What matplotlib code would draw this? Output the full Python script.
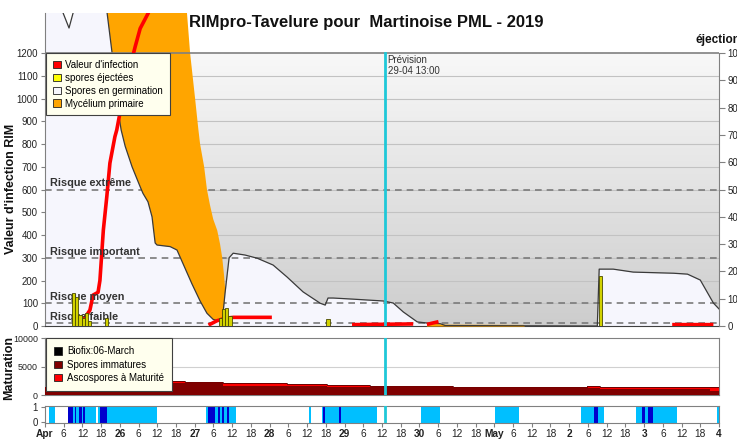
import numpy as np
import matplotlib
matplotlib.use('Agg')
import matplotlib.pyplot as plt
from matplotlib.patches import Patch
from matplotlib.colors import LinearSegmentedColormap

plt.rcParams['font.family'] = ['Liberation Sans', 'DejaVu Sans']

# ---------------- data (hours since 25-04 00:00) ----------------
germ_h = [0, 4.8, 5.8, 7.7, 9.0, 9.9, 18.9, 19.9, 21.5, 22.8, 24.4, 25.7, 27.9, 30.5, 31.4,
          33.0, 34.3, 35.3, 35.9, 40.1, 42.3, 44.2, 47.1, 49.7, 51.9, 53.9, 56.1, 56.8, 57.7,
          59.0, 60.3, 64.1, 68.0, 73.1, 77.6, 82.7, 88.2, 89.8, 90.7, 92.3, 98.8, 108.4, 111.6,
          114.8, 119.3, 122.5, 126.7, 128.3, 177.0, 177.6, 182.1, 188.5, 201.4, 205.9, 210.0,
          214.2, 216.0]
germ_v = [1500, 1450, 1376, 1310, 1376, 1450, 1450, 1376, 1200, 1000, 862, 790, 700, 612, 583,
          546, 480, 365, 356, 349, 334, 275, 185, 110, 56, 29, 20, 20, 145,
          300, 320, 312, 298, 268, 215, 150, 100, 92, 123, 123, 118, 110, 101,
          62, 18, 13, 10, 2, 0, 250, 250, 237, 232, 228, 202,
          101, 75]

myc_h = [17.6, 44.9, 45.5, 46.5, 48.1, 49.1, 49.7, 51.0, 51.9, 52.9, 53.9, 55.2, 56.1, 56.8,
         57.4, 57.8]
myc_v = [1500, 1500, 1376, 1200, 1000, 870, 800, 700, 600, 530, 470, 420, 360, 300, 220, 150]
myc2_h = [122.2, 122.5, 128.3, 153.3, 153.6]
myc2_v = [0, 14, 8, 7, 0]

inf_h = [10.2, 12.3, 14.4, 15.4, 17.0, 17.6, 18.7, 19.8, 20.8, 22.4, 23.0, 24.0, 25.7, 27.3,
         28.9, 30.5, 33.1, 34.3, np.nan,
         52.4, 55.1, 57.7, 60.4, 72.7, np.nan,
         98.4, 118.0, np.nan,
         122.4, 126.1, np.nan,
         201.0, 214.2]
inf_v = [4, 26, 70, 136, 148, 200, 422, 568, 716, 832, 862, 935, 1023, 1140,
         1228, 1308, 1376, 1420, np.nan,
         4, 23, 34, 38, 38, np.nan,
         6, 9, np.nan,
         7, 19, np.nan,
         6, 6]

spore_h = [9.2, 10.2, 11.2, 12.4, 13.4, 14.3, 19.8, 56.3, 57.3, 58.3, 59.3, 90.7, 178.0]
spore_v = [120, 105, 40, 30, 48, 20, 30, 30, 62, 65, 35, 25, 185]

mat_edges = [0, 39.4, 44.9, 57.1, 77.6, 90.4, 104.2, 130.8, 173.8, 178.0, 195.0, 213.2, 216]
mat_imm = [1360, 2170, 2060, 1650, 1590, 1470, 1360, 1240, 1200, 1120, 1000, 760]
mat_mature = [40, 350, 290, 410, 350, 300, 290, 230, 450, 350, 360, 600]

wet_light_start = [1.3, 7.4, 17.0, 51.5, 84.5, 88.7, 120.6, 144.3, 171.9, 189.4, 215.2]
wet_light_end = [3.2, 16.4, 35.9, 61.2, 85.2, 106.4, 126.7, 152.0, 179.0, 202.7, 216.0]
wet_dark_start = [7.4, 9.6, 10.9, 12.3, 17.6, 52.3, 55.5, 56.8, 58.4, 89.1, 94.3, 176.0, 191.3, 193.2]
wet_dark_end = [9.0, 9.9, 11.9, 12.8, 19.9, 54.5, 56.1, 57.4, 59.0, 89.8, 94.8, 177.1, 192.4, 195.0]

risk_levels = [600, 300, 100, 12]
risk_labels = ['Risque extrême', 'Risque important', 'Risque moyen', 'Risque faible']
forecast_h = 109
day_labels = ['Apr', '26', '27', '28', '29', '30', 'May', '2', '3', '4']

# ---------------- figure ----------------
W, H = 737, 440
fig = plt.figure(figsize=(W / 100, H / 100), dpi=100)


def px_axes(l, t, r, b):
    return fig.add_axes([l / W, 1 - b / H, (r - l) / W, (b - t) / H])


SP = '#808080'
TXT = '#222222'

ax = px_axes(45, 13, 719, 326)
grad = LinearSegmentedColormap.from_list('g', ['#cdcdcd', '#f8f8f8'])
ax.imshow(np.linspace(0, 1, 256).reshape(-1, 1), extent=[0, 216, 0, 1200], origin='lower',
          aspect='auto', cmap=grad, zorder=0)
for v in range(100, 1200, 100):
    ax.axhline(v, color='#c2c2c2', lw=0.8, zorder=1)
ax.fill_between(germ_h, 0, germ_v, color='#f6f6fd', lw=0, zorder=2)
for lvl in risk_levels:
    ax.axhline(lvl, color='#7a7a7a', lw=1.2, ls=(0, (4, 3)), zorder=3)
gh = np.array(germ_h); gv = np.array(germ_v)
sel = (gh >= myc_h[0]) & (gh <= myc_h[-1])
ax.fill(np.concatenate([myc_h, gh[sel][::-1]]), np.concatenate([myc_v, gv[sel][::-1]]),
        color='#ffa500', lw=0, zorder=4)
ax.fill_between(myc2_h, 0, myc2_v, color='#ffa500', lw=0, zorder=4)
ax.plot(germ_h, germ_v, color='#3a3a3a', lw=0.9, zorder=5)
ax.axhline(1200, color=SP, lw=1.2, zorder=5)
ax.plot(inf_h, inf_v, color='#ff0000', lw=2.6, zorder=6, solid_capstyle='butt')
for lvl, lab in zip(risk_levels, risk_labels):
    ax.text(1.6, lvl + 27, lab, fontsize=7.8, fontweight='bold', color='#333333',
            va='center', ha='left', zorder=7)
ax.axvline(forecast_h, ymin=0, ymax=1200 / 1376, color='#1fc8d8', lw=2, zorder=8)
ax.text(forecast_h + 0.8, 1193, 'Prévision\n29-04 13:00', fontsize=7, color='#333333',
        va='top', ha='left', linespacing=1.15, zorder=8)
ax.set_xlim(0, 216)
ax.set_ylim(0, 1376)
ax.set_yticks(range(0, 1201, 100))
ax.set_xticks([])
ax.tick_params(axis='y', labelsize=6.9, length=3, color=SP, labelcolor=TXT, pad=2)
ax.spines['top'].set_visible(False)
ax.spines['right'].set_visible(False)
for s in ['left', 'bottom']:
    ax.spines[s].set_color(SP)
ax.spines['bottom'].set_color('#404040')
ax.set_facecolor('white')

ax2 = ax.twinx()
ax2.bar(spore_h, spore_v, width=1.0, color='#d2d200', edgecolor='#4a4a00', lw=0.6, zorder=3)
ax2.set_ylim(0, 1376 / 1.2)
ax2.set_yticks(range(0, 1001, 100))
ax2.tick_params(axis='y', labelsize=6.9, length=4, color=SP, labelcolor=TXT, pad=2)
for s in ['top', 'left', 'bottom']:
    ax2.spines[s].set_visible(False)
ax2.spines['right'].set_bounds(0, 1000)
ax2.spines['right'].set_color(SP)
ax2.set_xlim(0, 216)

leg = ax2.legend(handles=[Patch(facecolor='#ff0000', edgecolor='#222222', lw=0.6),
                          Patch(facecolor='#ffff00', edgecolor='#222222', lw=0.6),
                          Patch(facecolor='#f6f6fd', edgecolor='#222222', lw=0.6),
                          Patch(facecolor='#ffa500', edgecolor='#222222', lw=0.6)],
                 labels=["Valeur d'infection", 'spores éjectées', 'Spores en germination',
                         'Mycélium primaire'],
                 loc='upper left', bbox_to_anchor=(1 / 674, (326 - 53) / 313),
                 borderaxespad=0, fontsize=7, frameon=True, fancybox=False,
                 handlelength=0.8, handleheight=0.8, handletextpad=0.5, labelspacing=0.3,
                 borderpad=0.7)
leg.get_frame().set_facecolor('#ffffee')
leg.get_frame().set_edgecolor('#404040')
leg.get_frame().set_linewidth(0.8)
leg.get_frame().set_alpha(1)
leg.set_zorder(20)

# maturation panel
axm = px_axes(45, 338, 719, 395)
axm.axhline(5000, color='#d0d0d0', lw=0.8, zorder=1)
axm.stairs(np.array(mat_imm) + np.array(mat_mature), mat_edges, fill=True, color='#ff0000', zorder=2)
axm.stairs(np.array(mat_imm) + np.array(mat_mature), mat_edges, fill=False, color='#3a0000', lw=0.5, zorder=2.5)
axm.stairs(mat_imm, mat_edges, fill=True, color='#800000', zorder=3)
axm.axvline(forecast_h, color='#1fc8d8', lw=2, zorder=8)
axm.set_xlim(0, 216)
axm.set_ylim(0, 10000)
axm.set_yticks([0, 5000, 10000])
axm.set_xticks([])
axm.tick_params(axis='y', labelsize=6.4, length=3, color=SP, labelcolor=TXT, pad=2)
for s in axm.spines.values():
    s.set_color(SP)
legm = axm.legend(handles=[Patch(facecolor='#000000', edgecolor='#222222', lw=0.6),
                           Patch(facecolor='#800000', edgecolor='#222222', lw=0.6),
                           Patch(facecolor='#ff0000', edgecolor='#222222', lw=0.6)],
                  labels=['Biofix:06-March', 'Spores immatures', 'Ascospores à Maturité'],
                  loc='upper left', bbox_to_anchor=(1 / 674, 1.0), borderaxespad=0,
                  fontsize=7, frameon=True, fancybox=False, handlelength=0.8,
                  handleheight=0.8, handletextpad=0.5, labelspacing=0.35, borderpad=0.85)
legm.get_frame().set_facecolor('#ffffee')
legm.get_frame().set_edgecolor('#404040')
legm.get_frame().set_linewidth(0.8)
legm.get_frame().set_alpha(1)
legm.set_zorder(20)

# wetness panel
axw = px_axes(45, 406, 719, 423)
for s, e in zip(wet_light_start, wet_light_end):
    axw.axvspan(s, e, color='#00bfff', lw=0, zorder=1)
for s, e in zip(wet_dark_start, wet_dark_end):
    axw.axvspan(s, e, color='#0000cd', lw=0, zorder=2)
axw.axvline(forecast_h, color='#1fc8d8', lw=2, zorder=8)
axw.set_xlim(0, 216)
axw.set_ylim(-0.05, 1.09)
axw.set_yticks([0, 1])
ticks = list(range(0, 217, 6))
labels = []
for t in ticks:
    if t % 24 == 0:
        labels.append(day_labels[t // 24])
    else:
        labels.append(str(t % 24))
axw.set_xticks(ticks)
axw.set_xticklabels(labels)
for t, lab in zip(ticks, axw.get_xticklabels()):
    if t % 24 == 0:
        lab.set_fontweight('bold')
axw.tick_params(axis='x', labelsize=7.3, length=3, color=SP, labelcolor=TXT, pad=1.5)
axw.tick_params(axis='y', labelsize=6.9, length=3, color=SP, labelcolor=TXT, pad=2)
for s in axw.spines.values():
    s.set_color(SP)

# texts
fig.text(366 / W, 1 - 22 / H, 'RIMpro-Tavelure pour  Martinoise PML - 2019', ha='center',
         va='center', fontsize=12, fontweight='bold', color='#111111')
fig.text(695 / W, 1 - 40 / H, 'éjection', ha='left', va='center', fontsize=8.5,
         fontweight='bold', color='#111111')
fig.text(11 / W, 1 - 189 / H, "Valeur d'infection RIM", rotation=90, ha='center', va='center',
         fontsize=9, fontweight='bold', color='#111111')
fig.text(9 / W, 1 - 368 / H, 'Maturation', rotation=90, ha='center', va='center',
         fontsize=9, fontweight='bold', color='#111111')

fig.savefig('out.png', dpi=100)
